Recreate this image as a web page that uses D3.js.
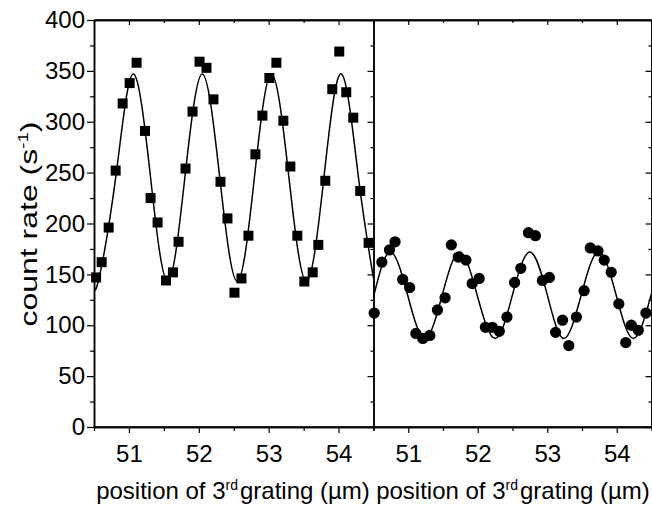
<!DOCTYPE html>
<html>
<head>
<meta charset="utf-8">
<script src="https://cdn.jsdelivr.net/npm/d3@7"></script>
<style>
  body { margin: 0; background: #fff; }
  svg { font-family: "Liberation Sans", Arial, sans-serif; }
</style>
</head>
<body>
<div id="chart"></div>
<script>
// measured points, left panel (squares)
const leftX = [50.53, 50.61, 50.71, 50.81, 50.91, 51.01, 51.11, 51.23, 51.31, 51.41,
  51.53, 51.63, 51.71, 51.81, 51.91, 52.01, 52.11, 52.21, 52.31, 52.41,
  52.51, 52.61, 52.71, 52.81, 52.91, 53.01, 53.11, 53.21, 53.31, 53.41,
  53.51, 53.63, 53.71, 53.81, 53.91, 54.01, 54.11, 54.21, 54.31, 54.43];
const leftY = [147, 162, 196, 252, 318, 338, 358, 291, 225, 201,
  144, 152, 182, 254, 310, 359, 353, 322, 241, 205,
  132, 146, 188, 268, 306, 343, 358, 301, 256, 188,
  143, 152, 179, 242, 332, 369, 329, 304, 232, 181];

// measured points, right panel (circles)
const rightX = [50.51, 50.62, 50.73, 50.81, 50.92, 51.02, 51.11, 51.21, 51.31, 51.42,
  51.53, 51.62, 51.72, 51.83, 51.92, 52.02, 52.11, 52.21, 52.31, 52.42,
  52.53, 52.62, 52.73, 52.83, 52.93, 53.03, 53.12, 53.22, 53.31, 53.42,
  53.53, 53.62, 53.73, 53.82, 53.92, 54.03, 54.13, 54.21, 54.31, 54.42];
const rightY = [112, 162, 174, 182, 145, 137, 92, 87, 90, 115,
  127, 179, 167, 164, 141, 146, 98, 98, 94, 108,
  142, 156, 191, 188, 144, 147, 93, 105, 80, 108,
  134, 176, 173, 164, 152, 121, 83, 100, 95, 112];

// fitted curves, read at extrema and midpoints
const leftFitX = [50.5, 50.56, 50.81, 51.06, 51.31, 51.555, 51.8, 52.05, 52.3, 52.55,
  52.795, 53.04, 53.29, 53.54, 53.79, 54.04, 54.285, 54.5];
const leftFitY = [146, 143, 245, 347, 245, 143, 245, 347, 245, 143,
  245, 347, 245, 143, 245, 347, 245, 146];
const rightFitX = [50.5, 50.74, 50.99, 51.24, 51.49, 51.74, 51.99, 52.25, 52.5, 52.75,
  53.0, 53.24, 53.49, 53.74, 53.99, 54.24, 54.5];
const rightFitY = [128, 172, 130, 87, 130, 172, 130, 87, 130, 172,
  130, 87, 130, 172, 130, 87, 131];

const xMajor = [51, 52, 53, 54];
const xMinor = [50.5, 51.5, 52.5, 53.5, 54.5];
const yMajor = [0, 50, 100, 150, 200, 250, 300, 350, 400];
const yMinor = [25, 75, 125, 175, 225, 275, 325, 375];

const width = 652, height = 505;
const yTop = 20, yBottom = 427;
const font = '"Liberation Sans", Arial, sans-serif';

const svg = d3.select('#chart').append('svg')
  .attr('width', width)
  .attr('height', height);

const y = d3.scaleLinear().domain([0, 400]).range([yBottom, yTop]);

const panels = [
  { id: 'l', x0: 94, x1: 373.5, title: 233, xs: leftX, ys: leftY, fx: leftFitX, fy: leftFitY, sym: d3.symbolSquare, size: 100 },
  { id: 'r', x0: 373.5, x1: 651.5, title: 513, xs: rightX, ys: rightY, fx: rightFitX, fy: rightFitY, sym: d3.symbolCircle, size: 100 }
];

panels.forEach((p, i) => {
  const x = d3.scaleLinear().domain([50.5, 54.5]).range([p.x0, p.x1]);

  svg.append('clipPath').attr('id', 'clip-' + p.id)
    .append('rect')
    .attr('x', p.x0).attr('y', yTop)
    .attr('width', p.x1 - p.x0).attr('height', yBottom - yTop);

  const plot = svg.append('g').attr('clip-path', `url(#clip-${p.id})`);

  // fit curve
  const line = d3.line()
    .x(d => x(d[0]))
    .y(d => y(d[1]))
    .curve(d3.curveNatural);
  plot.append('path')
    .datum(d3.zip(p.fx, p.fy))
    .attr('d', line)
    .attr('fill', 'none')
    .attr('stroke', '#000')
    .attr('stroke-width', 1.5);

  // data markers
  svg.append('g').selectAll('path')
    .data(d3.zip(p.xs, p.ys))
    .join('path')
    .attr('transform', d => `translate(${x(d[0])},${y(d[1])})`)
    .attr('d', d3.symbol().type(p.sym).size(p.size))
    .attr('fill', '#000');

  // bottom axis
  const xb = svg.append('g').attr('transform', `translate(0,${yBottom})`)
    .call(d3.axisBottom(x).tickValues(xMajor).tickFormat(d3.format('d'))
      .tickSize(6).tickSizeOuter(0).tickPadding(12));
  xb.selectAll('text').attr('font-size', 24).attr('font-family', font).attr('fill', '#000');
  svg.append('g').attr('transform', `translate(0,${yBottom})`)
    .call(d3.axisBottom(x).tickValues(xMinor).tickSize(4).tickSizeOuter(0).tickFormat(''));

  // top axis, ticks pointing in
  svg.append('g').attr('transform', `translate(0,${yTop})`)
    .call(d3.axisBottom(x).tickValues(xMajor).tickSize(5).tickSizeOuter(0).tickFormat(''));
  svg.append('g').attr('transform', `translate(0,${yTop})`)
    .call(d3.axisBottom(x).tickValues(xMinor).tickSize(3).tickSizeOuter(0).tickFormat(''));

  // right edge of panel, ticks pointing in
  svg.append('g').attr('transform', `translate(${p.x1},0)`)
    .call(d3.axisLeft(y).tickValues(yMajor).tickSize(6).tickSizeOuter(0).tickFormat(''));
  svg.append('g').attr('transform', `translate(${p.x1},0)`)
    .call(d3.axisLeft(y).tickValues(yMinor).tickSize(3).tickSizeOuter(0).tickFormat(''));

  if (i === 0) {
    const ya = svg.append('g').attr('transform', `translate(${p.x0},0)`)
      .call(d3.axisLeft(y).tickValues(yMajor).tickSize(7).tickSizeOuter(0).tickPadding(2));
    ya.selectAll('text').attr('font-size', 24).attr('font-family', font).attr('fill', '#000');
    svg.append('g').attr('transform', `translate(${p.x0},0)`)
      .call(d3.axisLeft(y).tickValues(yMinor).tickSize(4).tickSizeOuter(0).tickFormat(''));
  }

  // x title
  const t = svg.append('text')
    .attr('x', p.title)
    .attr('y', 499)
    .attr('text-anchor', 'middle')
    .attr('font-size', 24)
    .attr('fill', '#000');
  t.append('tspan').text('position of 3');
  t.append('tspan').attr('dy', -9).attr('font-size', 14).text('rd');
  t.append('tspan').attr('dy', 9).attr('dx', 2).text('grating (\u00b5m)');
});

// frame lines
svg.selectAll('.domain').attr('stroke', '#000').attr('stroke-width', 1.5);
svg.selectAll('.tick line').attr('stroke', '#000').attr('stroke-width', 1.2);
svg.append('line').attr('x1', 94).attr('x2', 651.5).attr('y1', yTop).attr('y2', yTop)
  .attr('stroke', '#000').attr('stroke-width', 1.5);
svg.append('line').attr('x1', 94).attr('x2', 651.5).attr('y1', yBottom).attr('y2', yBottom)
  .attr('stroke', '#000').attr('stroke-width', 1.5);

// y title
const yt = svg.append('text')
  .attr('transform', 'translate(37,224) rotate(-90)')
  .attr('text-anchor', 'middle')
  .attr('font-size', 24)
  .attr('textLength', 205)
  .attr('lengthAdjust', 'spacingAndGlyphs')
  .attr('fill', '#000');
yt.append('tspan').text('count rate (s');
yt.append('tspan').attr('dy', -9).attr('font-size', 14).text('-1');
yt.append('tspan').attr('dy', 9).text(')');
</script>
</body>
</html>
